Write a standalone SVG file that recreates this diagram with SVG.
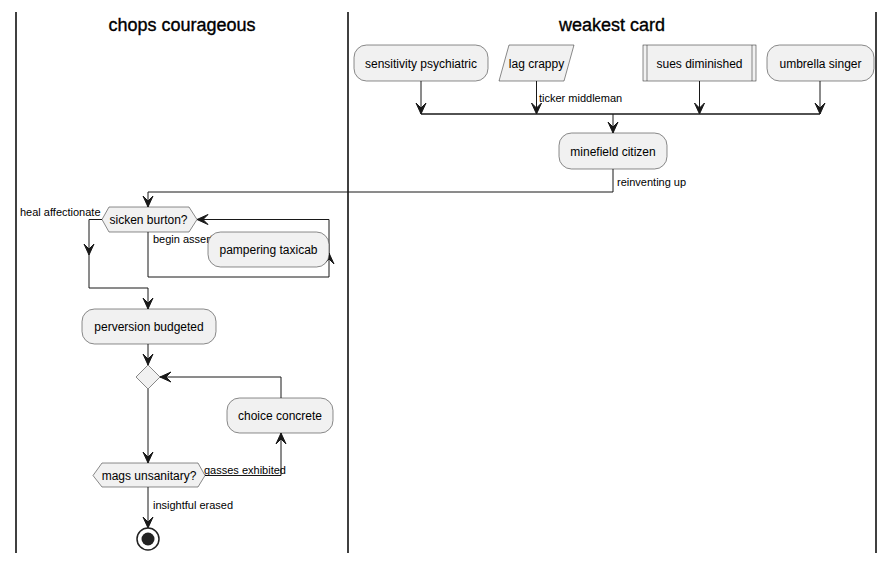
<svg xmlns="http://www.w3.org/2000/svg" width="895" height="563" viewBox="0 0 895 563">
<style>
.lane{stroke:#000;stroke-width:1.5;fill:none}
.title{font-family:"Liberation Sans",Arial,sans-serif;font-size:18px;fill:#000;stroke:#000;stroke-width:0.35;text-anchor:middle}
.node{fill:#F1F1F1;stroke:#181818;stroke-width:0.5}
.t{font-family:"Liberation Sans",Arial,sans-serif;font-size:12px;fill:#000;text-anchor:middle}
.lbl{font-family:"Liberation Sans",Arial,sans-serif;font-size:11px;fill:#000}
.c{fill:none;stroke:#181818;stroke-width:1}
.ah{fill:#181818;stroke:#181818;stroke-width:1}
</style>
<g id="lanes">
<line class="lane" x1="16" y1="12" x2="16" y2="553"/>
<line class="lane" x1="348" y1="12" x2="348" y2="553"/>
<line class="lane" x1="876" y1="12" x2="876" y2="553"/>
<text class="title" x="182" y="31">chops courageous</text>
<text class="title" x="612" y="31">weakest card</text>
</g>
<g id="connectors">
<path class="c" d="M421,81 V114"/>
<polygon class="ah" points="416,103 421,114 426,103 421,108"/>
<path class="c" d="M536.5,81 V114"/>
<polygon class="ah" points="531.5,103 536.5,114 541.5,103 536.5,108"/>
<text class="lbl" x="539" y="101.5">ticker middleman</text>
<path class="c" d="M699.5,81 V114"/>
<polygon class="ah" points="694.5,103 699.5,114 704.5,103 699.5,108"/>
<path class="c" d="M820,81 V114"/>
<polygon class="ah" points="815,103 820,114 825,103 820,108"/>
<line x1="421" y1="114" x2="820" y2="114" stroke="#181818" stroke-width="1.6"/>
<path class="c" d="M613,114 V133"/>
<polygon class="ah" points="608,122 613,133 618,122 613,127"/>
<path class="c" d="M613,169 V192 H148 V207"/>
<polygon class="ah" points="143,196 148,207 153,196 148,201"/>
<text class="lbl" x="617" y="186">reinventing up</text>
<path class="c" d="M102,219.5 H89 V288 H148 V309"/>
<polygon class="ah" points="84,244 89,255 94,244 89,249"/>
<polygon class="ah" points="143,298 148,309 153,298 148,303"/>
<text class="lbl" x="20" y="216">heal affectionate</text>
<path class="c" d="M148,232 V277 H329 V219.5 H197"/>
<polygon class="ah" points="324,264 329,253 334,264 329,259"/>
<polygon class="ah" points="208,214.5 197,219.5 208,224.5 203,219.5"/>
<text class="lbl" x="153" y="243">begin assert</text>
<path class="c" d="M148,344 V365"/>
<polygon class="ah" points="143,354 148,365 153,354 148,359"/>
<path class="c" d="M148,389 V463"/>
<polygon class="ah" points="143,452 148,463 153,452 148,457"/>
<path class="c" d="M205,475.5 H281 V433"/>
<polygon class="ah" points="276,444 281,433 286,444 281,439"/>
<text class="lbl" x="204" y="474">gasses exhibited</text>
<path class="c" d="M281,398 V377 H160"/>
<polygon class="ah" points="171,372 160,377 171,382 166,377"/>
<path class="c" d="M148,487 V528"/>
<polygon class="ah" points="143,517 148,528 153,517 148,522"/>
<text class="lbl" x="153" y="509">insightful erased</text>
</g>
<g id="sensitivity-psychiatric">
<rect class="node" x="354" y="45" width="134" height="36" rx="12.5"/>
<text class="t" x="421" y="67.5">sensitivity psychiatric</text>
</g>
<g id="lag-crappy">
<polygon class="node" points="509,45 574,45 564,81 499,81"/>
<text class="t" x="536.5" y="67.5">lag crappy</text>
</g>
<g id="sues-diminished">
<rect class="node" x="643" y="45" width="113" height="36"/>
<line x1="647" y1="45" x2="647" y2="81" stroke="#181818" stroke-width="0.5"/>
<line x1="752" y1="45" x2="752" y2="81" stroke="#181818" stroke-width="0.5"/>
<text class="t" x="699.5" y="67.5">sues diminished</text>
</g>
<g id="umbrella-singer">
<rect class="node" x="767" y="45" width="107" height="36" rx="12.5"/>
<text class="t" x="820.5" y="67.5">umbrella singer</text>
</g>
<g id="minefield-citizen">
<rect class="node" x="559" y="133" width="108" height="36" rx="12.5"/>
<text class="t" x="613" y="155.5">minefield citizen</text>
</g>
<g id="sicken-burton">
<polygon class="node" points="102,219.5 109,207 189,207 197,219.5 189,232 109,232"/>
<text class="t" x="148.5" y="224">sicken burton?</text>
</g>
<g id="pampering-taxicab">
<rect class="node" x="208" y="232" width="121" height="35" rx="12.5"/>
<text class="t" x="268.5" y="254">pampering taxicab</text>
</g>
<g id="perversion-budgeted">
<rect class="node" x="82" y="309" width="134" height="35" rx="12.5"/>
<text class="t" x="149" y="331">perversion budgeted</text>
</g>
<g id="merge-diamond">
<polygon class="node" points="136,377 148,365 160,377 148,389"/>
</g>
<g id="choice-concrete">
<rect class="node" x="227" y="398" width="106" height="35" rx="12.5"/>
<text class="t" x="280" y="420">choice concrete</text>
</g>
<g id="mags-unsanitary">
<polygon class="node" points="93,475.5 102,463 198,463 205,475.5 198,487 102,487"/>
<text class="t" x="149" y="480">mags unsanitary?</text>
</g>
<g id="end">
<circle cx="148" cy="539" r="11" fill="#fff" stroke="#222" stroke-width="1.5"/>
<circle cx="148" cy="539" r="6.5" fill="#222"/>
</g>
</svg>
